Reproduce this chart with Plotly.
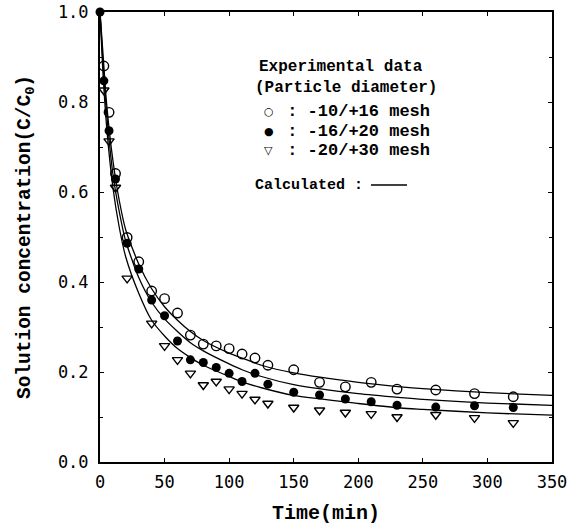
import plotly.graph_objects as go

# Experimental data: -10/+16 mesh (open circles)
t_open = [3, 7, 12, 21, 30, 40, 50, 60, 70, 80, 90, 100, 110, 120, 130, 150, 170, 190, 210, 230, 260, 290, 320]
c_open = [0.88, 0.777, 0.641, 0.499, 0.445, 0.38, 0.363, 0.331, 0.282, 0.262, 0.258, 0.252, 0.240, 0.231, 0.215, 0.205, 0.177, 0.167, 0.177, 0.162, 0.160, 0.152, 0.145]

# Experimental data: -16/+20 mesh (filled circles)
t_fill = [0, 3, 7, 12, 21, 30, 40, 50, 60, 70, 80, 90, 100, 110, 120, 130, 150, 170, 190, 210, 230, 260, 290, 320]
c_fill = [1.0, 0.847, 0.736, 0.629, 0.486, 0.429, 0.360, 0.325, 0.269, 0.227, 0.221, 0.210, 0.197, 0.179, 0.197, 0.173, 0.155, 0.149, 0.140, 0.134, 0.126, 0.122, 0.125, 0.121]

# Experimental data: -20/+30 mesh (open down triangles)
t_tri = [3, 7, 12, 21, 40, 50, 60, 70, 80, 90, 100, 110, 120, 130, 150, 170, 190, 210, 230, 260, 290, 320]
c_tri = [0.826, 0.713, 0.61, 0.408, 0.308, 0.258, 0.227, 0.197, 0.171, 0.179, 0.162, 0.152, 0.139, 0.130, 0.121, 0.115, 0.110, 0.107, 0.100, 0.105, 0.098, 0.087]

# Calculated curves
t_calc = [0, 2, 5, 10, 15, 20, 30, 40, 50, 60, 70, 80, 100, 110, 125, 150, 200, 233, 250, 300, 350]
calc_open = [1.0, 0.92, 0.80, 0.67, 0.58, 0.515, 0.44, 0.385, 0.345, 0.315, 0.29, 0.27, 0.242, 0.231, 0.215, 0.198, 0.177, 0.167, 0.163, 0.154, 0.148]
calc_fill = [1.0, 0.90, 0.78, 0.64, 0.555, 0.49, 0.41, 0.355, 0.318, 0.29, 0.265, 0.247, 0.218, 0.205, 0.19, 0.172, 0.152, 0.143, 0.139, 0.131, 0.126]
calc_tri = [1.0, 0.88, 0.75, 0.61, 0.52, 0.455, 0.375, 0.315, 0.28, 0.252, 0.232, 0.215, 0.19, 0.178, 0.165, 0.148, 0.13, 0.12, 0.117, 0.109, 0.104]

x_ticks = [0, 50, 100, 150, 200, 250, 300, 350]
y_ticks = [0.0, 0.2, 0.4, 0.6, 0.8, 1.0]
y_ticklabels = ["0.0", "0.2", "0.4", "0.6", "0.8", "1.0"]

legend_title = ["Experimental data", "(Particle diameter)"]
series_labels = [" : -10/+16 mesh", " : -16/+20 mesh", " : -20/+30 mesh"]
series_glyphs = ["○", "●", "▽"]

fig = go.Figure()

for yc in [calc_open, calc_fill, calc_tri]:
    fig.add_trace(go.Scatter(x=t_calc, y=yc, mode="lines", line=dict(color="black", width=1.3, shape="spline", smoothing=0.6),
                             showlegend=False, hoverinfo="skip"))

fig.add_trace(go.Scatter(x=t_open, y=c_open, mode="markers", cliponaxis=False,
                         marker=dict(symbol="circle-open", size=9.5, color="black", line=dict(width=1.4)), showlegend=False))
fig.add_trace(go.Scatter(x=t_tri, y=c_tri, mode="markers", cliponaxis=False,
                         marker=dict(symbol="triangle-down-open", size=9, color="black", line=dict(width=1.4)), showlegend=False))
fig.add_trace(go.Scatter(x=t_fill, y=c_fill, mode="markers", cliponaxis=False,
                         marker=dict(symbol="circle", size=9, color="black"), showlegend=False))

L, R, T, B = 100, 24, 12, 67
W, H = 576, 529
pw, ph = W - L - R, H - T - B

def px2paper(px, py):
    return (px - L) / pw, (H - B - py) / ph

text_font = dict(family="Liberation Mono", size=16, color="black")

ann = []
for txt, (px, py) in zip(legend_title, [(257, 66.7), (253, 88.3)]):
    xx, yy = px2paper(px, py)
    ann.append(dict(x=xx, y=yy, xref="paper", yref="paper", xanchor="left", yanchor="middle",
                    text="<b>" + txt + "</b>", showarrow=False, font=text_font))
for g, txt, py in zip(series_glyphs, series_labels, [111.7, 131.7, 150.7]):
    xx, yy = px2paper(268.5, py)
    ann.append(dict(x=xx, y=yy, xref="paper", yref="paper", xanchor="center", yanchor="middle",
                    text=g, showarrow=False, font=dict(family="DejaVu Sans", size=11, color="black")))
    xx, yy = px2paper(275, py)
    ann.append(dict(x=xx, y=yy, xref="paper", yref="paper", xanchor="left", yanchor="middle",
                    text="<b>" + txt + "</b>", showarrow=False, font=dict(family="Liberation Mono", size=17, color="black")))
xx, yy = px2paper(252.5, 185)
ann.append(dict(x=xx, y=yy, xref="paper", yref="paper", xanchor="left", yanchor="middle",
                text="<b>Calculated :</b>", showarrow=False, font=dict(family="Liberation Mono", size=15, color="black")))

x0, yl = px2paper(371, 185)
x1, _ = px2paper(407, 185)

fig.update_layout(
    width=W, height=H,
    margin=dict(l=L, r=R, t=T, b=B, autoexpand=False),
    paper_bgcolor="white", plot_bgcolor="white",
    annotations=ann,
    shapes=[dict(type="line", xref="paper", yref="paper", x0=x0, x1=x1, y0=yl, y1=yl,
                 line=dict(color="black", width=1.5))],
    xaxis=dict(range=[0, 350], tickvals=x_ticks, ticktext=[str(v) for v in x_ticks], automargin=False,
               showgrid=False, zeroline=False, showline=True, linecolor="black", linewidth=2, mirror="ticks",
               ticks="inside", ticklen=4, tickcolor="black",
               tickfont=dict(family="DejaVu Sans Mono", size=17, color="black"), ticklabelstandoff=4,
               title=dict(text="<b>Time(min)</b>", font=dict(family="Liberation Mono", size=20, color="black"), standoff=14)),
    yaxis=dict(range=[0, 1.0], tickvals=y_ticks, ticktext=y_ticklabels, automargin=False,
               showgrid=False, zeroline=False, showline=True, linecolor="black", linewidth=2, mirror="ticks",
               ticks="inside", ticklen=4, tickcolor="black",
               minor=dict(dtick=0.1, ticks="inside", ticklen=3, tickcolor="black"),
               tickfont=dict(family="DejaVu Sans Mono", size=17, color="black"), ticklabelstandoff=6,
               title=dict(text="<b>Solution concentration(C/C<sub>0</sub>)</b>",
                          font=dict(family="Liberation Mono", size=19.5, color="black"), standoff=22)),
)

fig.write_html("out.html", config={"displayModeBar": False},
               post_script="document.body.style.margin='0';document.body.style.overflow='hidden';")
